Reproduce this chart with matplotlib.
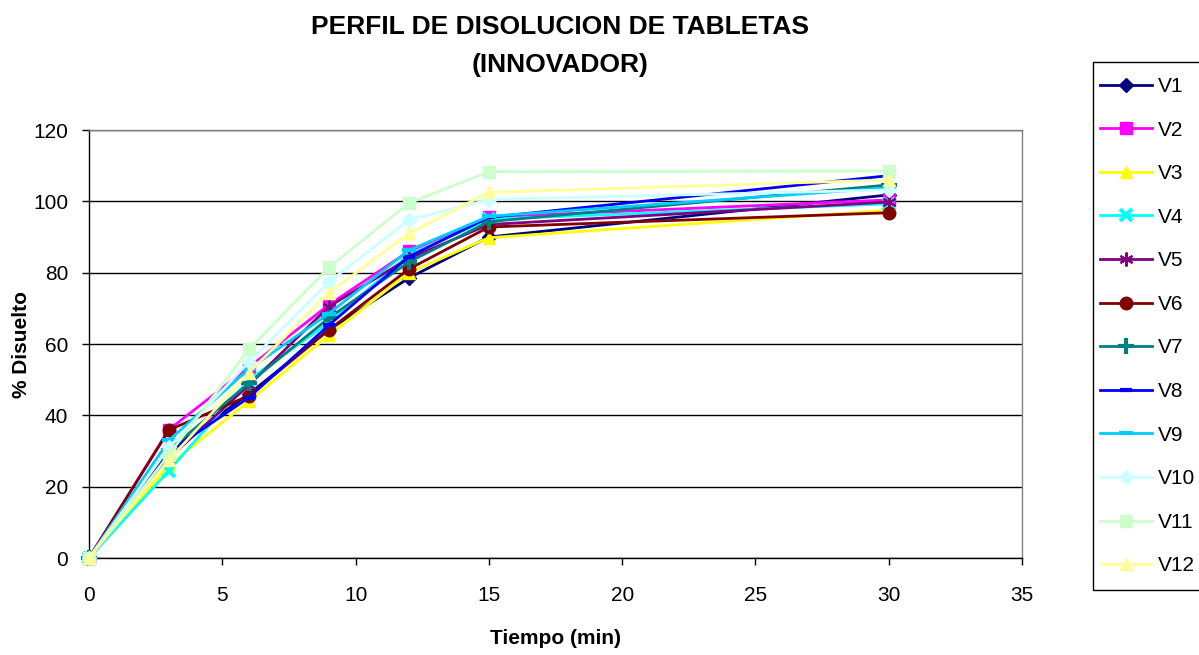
import matplotlib
matplotlib.use("Agg")
import matplotlib.pyplot as plt
from matplotlib.patches import Rectangle

# Dissolution profile data (% dissolved) per vessel
tiempo = [0, 3, 6, 9, 12, 15, 30]
V1 = [0, 30.0, 46.0, 64.0, 78.5, 90.0, 101.8]
V2 = [0, 36.0, 53.5, 71.0, 86.0, 95.6, 100.4]
V3 = [0, 26.0, 44.0, 62.5, 80.0, 89.8, 97.5]
V4 = [0, 24.5, 50.0, 66.0, 85.0, 95.0, 99.3]
V5 = [0, 28.0, 48.5, 70.5, 84.0, 93.5, 99.8]
V6 = [0, 35.9, 45.5, 64.0, 81.0, 92.8, 96.8]
V7 = [0, 30.3, 49.0, 67.3, 83.0, 94.3, 104.6]
V8 = [0, 29.7, 45.0, 65.3, 84.5, 95.5, 107.2]
V9 = [0, 33.0, 53.0, 68.5, 86.3, 95.8, 103.8]
V10 = [0, 31.0, 55.0, 77.4, 94.8, 100.5, 103.2]
V11 = [0, 29.0, 58.5, 81.5, 99.5, 108.3, 108.5]
V12 = [0, 27.5, 52.0, 74.3, 91.0, 102.5, 106.0]

labels = ["V1", "V2", "V3", "V4", "V5", "V6",
          "V7", "V8", "V9", "V10", "V11", "V12"]
series = [V1, V2, V3, V4, V5, V6, V7, V8, V9, V10, V11, V12]

colors = ["#000080", "#FF00FF", "#FFFF00", "#00FFFF", "#800080", "#800000",
          "#008080", "#0000FF", "#00CCFF", "#CCFFFF", "#CCFFCC", "#FFFF99"]
markers = ["D", "s", "^", "x", (6, 2, 0), "o", "+", "_", "_", "D", "s", "^"]
msizes = [7, 8, 9, 9, 10, 9, 11, 8, 10, 7, 8, 9]

plt.rcParams["font.family"] = ["Liberation Sans", "DejaVu Sans"]

fig = plt.figure(figsize=(11.99, 6.55), dpi=100)
W, H = 1199, 655
ax = fig.add_axes([89 / W, (H - 558) / H, (1022 - 89) / W, (558 - 130) / H])

handles = []
for vals, lab, c, m, ms in zip(series, labels, colors, markers, msizes):
    mew = 3 if m in ("_", "x", "+") else 1.5 if isinstance(m, tuple) else 1
    h, = ax.plot(tiempo, vals, color=c, linewidth=2, marker=m, markersize=ms,
                 markeredgewidth=mew, markeredgecolor=c, markerfacecolor=c,
                 label=lab, clip_on=False, zorder=3)
    handles.append(h)

ax.set_xlim(0, 35)
ax.set_ylim(0, 120)
ax.set_xticks(range(0, 36, 5))
ax.set_yticks(range(0, 121, 20))
ax.grid(axis="y", color="black", linewidth=1)
ax.set_axisbelow(True)
for sp in ax.spines.values():
    sp.set_color("#808080")
    sp.set_linewidth(1)
ax.spines["left"].set_color("black")
ax.spines["bottom"].set_color("black")
ax.tick_params(axis="x", direction="out", length=5, width=1, labelsize=15, pad=15)
ax.tick_params(axis="y", direction="out", length=5, width=1, labelsize=15, pad=10)

ax.set_xlabel("Tiempo (min)", fontsize=15, fontweight="bold", va="center")
ax.xaxis.set_label_coords(0.5, -(639 - 558) / 428)
ax.set_ylabel("% Disuelto", fontsize=15, fontweight="bold", va="center")
ax.yaxis.set_label_coords(-(89 - 21) / 933, 0.5)

fig.text(560 / W, 1 - 27 / H, "PERFIL DE DISOLUCION DE TABLETAS",
         ha="center", va="center", fontsize=19, fontweight="bold")
fig.text(560 / W, 1 - 65 / H, "(INNOVADOR)",
         ha="center", va="center", fontsize=19, fontweight="bold")

# Legend box drawn separately so the entries can sit freely inside it
fig.patches.append(Rectangle((1093 / W, 1 - 590 / H), (1210 - 1093) / W,
                             (590 - 62) / H, transform=fig.transFigure,
                             facecolor="white", edgecolor="black",
                             linewidth=1, zorder=0))
leg = fig.legend(handles=handles, loc="upper left",
                 bbox_to_anchor=(1100 / W, 1 - 77 / H), fontsize=15,
                 frameon=False, handlelength=2.5, handletextpad=0.3,
                 labelspacing=1.18, borderaxespad=0, borderpad=0)

fig.savefig("out.png", dpi=100)
